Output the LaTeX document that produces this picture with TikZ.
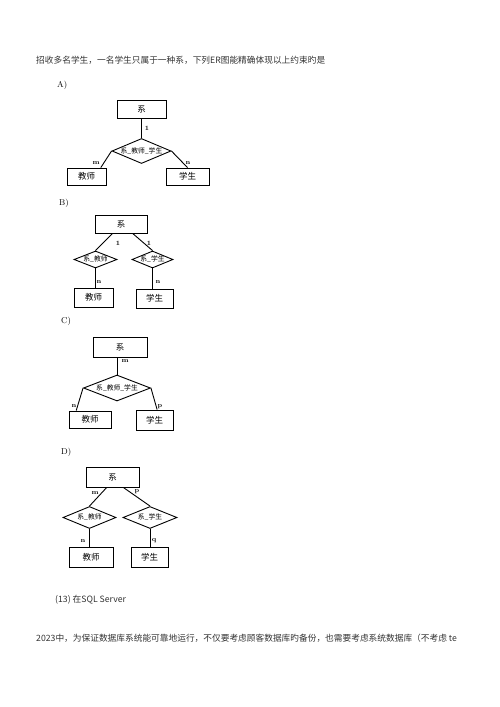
\documentclass[tikz,border=0pt]{standalone}
\usepackage{fontspec}
\newfontfamily\cjk{Noto Sans CJK SC}
\usetikzlibrary{shapes}

\begin{document}
\begin{tikzpicture}[x=1pt,y=-1pt,
  ent/.style={draw,rectangle,inner sep=0pt,line width=.9pt,font=\cjk\fontsize{8.5}{9}\selectfont},
  rel/.style={draw,diamond,inner sep=0pt,aspect=2.4,line width=.9pt,font=\cjk\fontsize{6.8}{7}\selectfont},
  card/.style={inner sep=0pt,font=\fontsize{6.5}{7}\selectfont\bfseries},
  txt/.style={inner sep=0pt,anchor=west,text=black!80,font=\cjk\fontsize{8.7}{10}\selectfont},
  opt/.style={inner sep=0pt,anchor=west,font=\fontsize{8.5}{9}\selectfont}]
\useasboundingbox[fill=white] (0,0) rectangle (500,707);

\node[txt] (head) at (36,60) {招收多名学生，一名学生只属于一种系，下列ER图能精确体现以上约束旳是};

% A
\node[opt] (optA) at (57,85) {A)};
\node[ent,minimum width=49pt,minimum height=18pt] (a0) at (141.5,109) {系};
\node[rel,minimum width=59pt,minimum height=25pt] (a1) at (141.5,151) {系\_教师\_学生};
\node[ent,minimum width=39pt,minimum height=17pt] (a2) at (86.5,176.5) {教师};
\node[ent,minimum width=43pt,minimum height=17pt] (a3) at (187.5,176.5) {学生};
\draw[line width=.9pt] (a0) -- (a1.north);
\draw[line width=.9pt] (a1.west) -- (a2.32);
\draw[line width=.9pt] (a1.east) -- (a3.north);
\node[card] (ka1) at (147,128) {1};
\node[card] (ka2) at (96,163) {m};
\node[card] (ka3) at (188,163) {n};

% B
\node[opt] (optB) at (59,203) {B)};
\node[ent,minimum width=52pt,minimum height=18pt] (b0) at (121,224) {系};
\node[rel,minimum width=43pt,minimum height=17pt] (b1) at (95.5,259.5) {系\_教师};
\node[rel,minimum width=41pt,minimum height=17pt] (b2) at (152.5,259.5) {系\_学生};
\node[ent,minimum width=39pt,minimum height=19pt] (b3) at (93.5,297.5) {教师};
\node[ent,minimum width=37pt,minimum height=19pt] (b4) at (154.5,298.5) {学生};
\draw[line width=.9pt] (b0.228) -- (b1.north);
\draw[line width=.9pt] (b0.321) -- (b2.north);
\draw[line width=.9pt] (b1.south) -- (b1.south |- b3.north);
\draw[line width=.9pt] (b2.south) -- (b2.south |- b4.north);
\node[card] (kb1) at (118,243) {1};
\node[card] (kb2) at (149,243) {1};
\node[card] (kb3) at (99,282) {n};
\node[card] (kb4) at (158,282) {n};

% C
\node[opt] (optC) at (61,321) {C)};
\node[ent,minimum width=54pt,minimum height=20pt] (c0) at (120,347) {系};
\node[rel,minimum width=67pt,minimum height=26pt] (c1) at (117,388) {系\_教师\_学生};
\node[ent,minimum width=42pt,minimum height=17pt] (c2) at (90,419.5) {教师};
\node[ent,minimum width=37pt,minimum height=20pt] (c3) at (154.5,420) {学生};
\draw[line width=.9pt] (c1.north |- c0.south) -- (c1.north);
\draw[line width=.9pt] (c1.west) -- (c2.147);
\draw[line width=.9pt] (c1.east) -- (c3.76);
\node[card] (kc1) at (125,361) {m};
\node[card] (kc2) at (74,406) {n};
\node[card] (kc3) at (160,407) {p};

% D
\node[opt] (optD) at (61,452) {D)};
\node[ent,minimum width=53pt,minimum height=20pt] (d0) at (112.5,477) {系};
\node[rel,minimum width=53pt,minimum height=22pt] (d1) at (89.5,517.5) {系\_教师};
\node[rel,minimum width=54pt,minimum height=22pt] (d2) at (150,517.5) {系\_学生};
\node[ent,minimum width=44pt,minimum height=20pt] (d3) at (91,557) {教师};
\node[ent,minimum width=37pt,minimum height=20pt] (d4) at (149.5,557) {学生};
\draw[line width=.9pt] (d0.241) -- (d1.north);
\draw[line width=.9pt] (d0.316) -- (d2.north);
\draw[line width=.9pt] (d1.south) -- (d1.south |- d3.north);
\draw[line width=.9pt] (d2.south) -- (d2.south |- d4.north);
\node[card] (kd1) at (95,493) {m};
\node[card] (kd2) at (137,492) {p};
\node[card] (kd3) at (83,541) {n};
\node[card] (kd4) at (154,541) {q};

\node[txt] (q13) at (55,600) {(13) 在SQL Server};
\node[txt] (tail) at (36,638) {2023中，为保证数据库系统能可靠地运行，不仅要考虑顾客数据库旳备份，也需要考虑系统数据库（不考虑 te};
\end{tikzpicture}
\end{document}
